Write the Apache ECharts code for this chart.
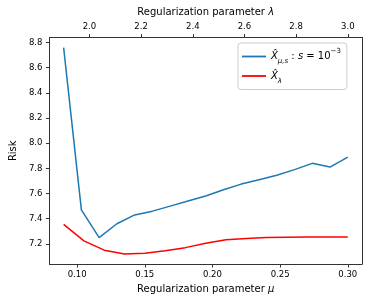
<!DOCTYPE html>
<html>
<head>
<meta charset="utf-8">
<script src="https://cdn.jsdelivr.net/npm/echarts@6/dist/echarts.min.js"></script>
<style>html,body{margin:0;padding:0;background:#fff}#c{width:374px;height:306px}</style>
</head>
<body>
<div id="c"></div>
<script>
// Blue series: risk vs mu (bottom axis)
const muValues = [0.09, 0.103125, 0.11625, 0.129375, 0.1425, 0.155625, 0.16875, 0.181875, 0.195, 0.208125, 0.22125, 0.234375, 0.2475, 0.260625, 0.27375, 0.286875, 0.30];
const riskMu = [8.76, 7.47, 7.25, 7.36, 7.43, 7.46, 7.50, 7.54, 7.58, 7.63, 7.675, 7.71, 7.745, 7.79, 7.84, 7.81, 7.89];
// Red series: risk vs lambda (top axis)
const lambdaValues = [1.9, 1.978571, 2.057143, 2.135714, 2.214286, 2.292857, 2.371429, 2.45, 2.528571, 2.607143, 2.685714, 2.764286, 2.842857, 2.921429, 3.0];
const riskLambda = [7.355, 7.224, 7.15, 7.12, 7.126, 7.145, 7.17, 7.205, 7.232, 7.243, 7.25, 7.252, 7.254, 7.255, 7.255];
const muTicks = [0.10, 0.15, 0.20, 0.25, 0.30];
const lambdaTicks = [2.0, 2.2, 2.4, 2.6, 2.8, 3.0];
const riskTicks = [7.2, 7.4, 7.6, 7.8, 8.0, 8.2, 8.4, 8.6, 8.8];

const font = 'DejaVu Sans';
const axisCol = '#333';
const chart = echarts.init(document.getElementById('c'), null, {renderer: 'canvas'});
const nameStyle = {
  fontFamily: font, fontSize: 10, color: '#000',
  rich: {i: {fontFamily: font, fontSize: 10, fontStyle: 'italic', color: '#000'}}
};
function xAxisCfg(pos, min, max, ticks, dec, name, gap) {
  return {
    type: 'value', position: pos, min: min, max: max,
    name: name, nameLocation: 'middle', nameGap: gap,
    nameTextStyle: nameStyle,
    axisLine: {show: true, onZero: false, lineStyle: {color: axisCol, width: 1}},
    axisTick: {show: true, inside: false, length: 3.5, customValues: ticks, lineStyle: {color: axisCol}},
    axisLabel: {customValues: ticks, margin: 6, fontFamily: font, fontSize: 8.5, color: '#000',
      formatter: v => v.toFixed(dec)},
    splitLine: {show: false}
  };
}
chart.setOption({
  animation: false,
  backgroundColor: '#fff',
  grid: {left: 47, right: 12, top: 37.5, bottom: 42, containLabel: false},
  xAxis: [
    xAxisCfg('bottom', 0.0795, 0.3105, muTicks, 2, 'Regularization parameter {i|μ}', 20),
    xAxisCfg('top', 1.845, 3.055, lambdaTicks, 1, 'Regularization parameter {i|λ}', 19)
  ],
  yAxis: [
    {
      type: 'value', position: 'left', min: 7.04, max: 8.84,
      name: 'Risk', nameLocation: 'middle', nameGap: 28,
      nameTextStyle: nameStyle,
      axisLine: {show: true, onZero: false, lineStyle: {color: axisCol, width: 1}},
      axisTick: {show: true, length: 3.5, customValues: riskTicks, lineStyle: {color: axisCol}},
      axisLabel: {customValues: riskTicks, margin: 7, fontFamily: font, fontSize: 8.5, color: '#000',
        formatter: v => v.toFixed(1)},
      splitLine: {show: false}
    },
    {
      type: 'value', position: 'right', min: 7.04, max: 8.84,
      axisLine: {show: true, onZero: false, lineStyle: {color: axisCol, width: 1}},
      axisTick: {show: false}, axisLabel: {show: false}, splitLine: {show: false}
    }
  ],
  legend: {
    left: 238, top: 43, orient: 'vertical',
    padding: [5, 6, 5, 4], itemGap: 6,
    backgroundColor: 'rgba(255,255,255,0.8)', borderColor: '#ccc', borderWidth: 1, borderRadius: 3,
    icon: 'rect', itemWidth: 24, itemHeight: 1.8,
    data: ['mu', 'lambda'],
    formatter: name => name === 'mu'
      ? '{x|X̂}{sub|μ,s}{t| : }{i|s}{t| = 10}{sup|−3}'
      : '{x|X̂}{sub|λ}',
    textStyle: {
      fontFamily: font, fontSize: 10, color: '#000',
      rich: {
        x: {fontFamily: font, fontSize: 10, fontStyle: 'italic', lineHeight: 17},
        i: {fontFamily: font, fontSize: 10, fontStyle: 'italic', lineHeight: 17},
        t: {fontFamily: font, fontSize: 10, lineHeight: 17},
        sub: {fontFamily: font, fontSize: 7, fontStyle: 'italic', lineHeight: 8, verticalAlign: 'bottom'},
        sup: {fontFamily: font, fontSize: 7, lineHeight: 8, verticalAlign: 'top'}
      }
    }
  },
  series: [
    {
      name: 'mu', type: 'line', xAxisIndex: 0, yAxisIndex: 0, symbol: 'none',
      lineStyle: {color: '#1f77b4', width: 1.5}, itemStyle: {color: '#1f77b4'},
      data: muValues.map((m, i) => [m, riskMu[i]])
    },
    {
      name: 'lambda', type: 'line', xAxisIndex: 1, yAxisIndex: 0, symbol: 'none',
      lineStyle: {color: '#ff0000', width: 1.5}, itemStyle: {color: '#ff0000'},
      data: lambdaValues.map((l, i) => [l, riskLambda[i]])
    }
  ]
});
</script>
</body>
</html>
